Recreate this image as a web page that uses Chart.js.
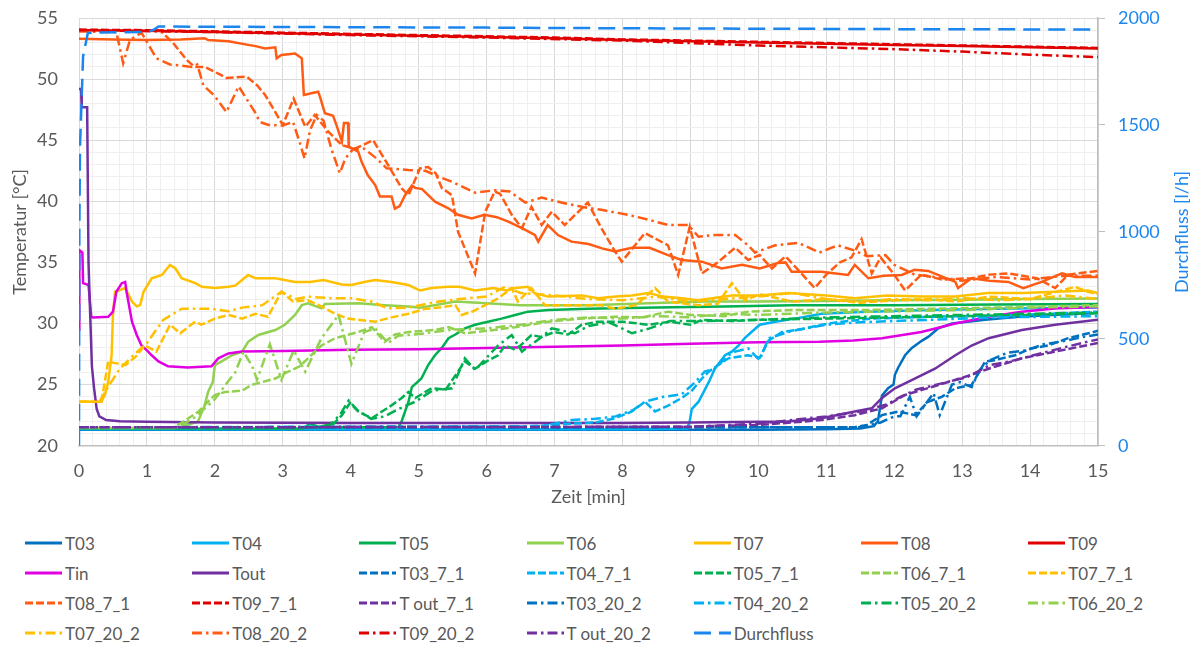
<!DOCTYPE html>
<html><head><meta charset="utf-8">
<script src="https://cdn.jsdelivr.net/npm/chart.js@4.4.1/dist/chart.umd.min.js"></script>
<style>
html,body{margin:0;padding:0;background:#fff;width:1200px;height:646px;overflow:hidden;font-family:Lato,'Open Sans',sans-serif;}
#wrap{position:absolute;left:0;top:0;width:1200px;height:510px;}
#legend{position:absolute;left:25px;top:528px;display:grid;grid-template-columns:repeat(7,167.2px);grid-auto-rows:30px;}
.item{display:flex;align-items:center;font-size:17px;color:#595959;white-space:nowrap;}
.item svg{margin-right:3px;flex:none;}
#y2title{position:absolute;left:1181px;top:232px;transform:translate(-50%,-50%) rotate(-90deg);font-size:18px;color:#1C86EE;white-space:nowrap;}
</style></head>
<body>
<div id="wrap"><canvas id="c"></canvas></div>
<div id="y2title">Durchfluss [l/h]</div>
<div id="legend"></div>
<script>
// ---- data: [time in min, value] ----
const T03 = [[0,21.3],[4,21.3],[8,21.3],[10,21.3],[11,21.35],[11.5,21.4],[11.7,21.6],[11.76,22.0],[11.82,24.1],[11.91,24.7],[11.99,25.0],[12.01,25.8],[12.06,26.4],[12.16,27.4],[12.26,28.0],[12.41,28.6],[12.5,28.9],[12.65,29.6],[12.85,30.0],[13.34,30.3],[13.83,30.55],[14.32,30.7],[15,30.85]];
const T04 = [[0,21.35],[4,21.35],[8,21.35],[8.95,21.4],[8.99,22.0],[9.02,23.0],[9.12,23.6],[9.27,25.2],[9.36,26.3],[9.51,27.4],[9.61,27.7],[9.71,28.2],[9.8,28.8],[9.9,29.3],[10.02,29.9],[10.25,30.15],[10.54,30.4],[10.93,30.8],[11.5,30.95],[12.5,31.1],[13.5,31.2],[15,31.3]];
const T05 = [[0,21.4],[3.3,21.4],[3.4,21.8],[3.55,21.5],[4.7,21.5],[4.75,22.0],[4.85,23.6],[4.9,24.8],[5.04,25.5],[5.14,26.6],[5.24,27.4],[5.34,28.0],[5.44,28.8],[5.54,29.1],[5.68,29.6],[5.83,29.9],[6.02,30.15],[6.22,30.4],[6.42,30.7],[6.61,30.97],[6.91,31.1],[7.5,31.2],[8.5,31.3],[9.5,31.4],[10.5,31.5],[12,31.5],[13.5,31.55],[15,31.6]];
const T06 = [[0,21.45],[1.4,21.45],[1.51,21.55],[1.75,21.96],[1.85,23.3],[1.9,24.4],[1.97,25.2],[2.0,26.6],[2.1,26.9],[2.25,27.4],[2.4,27.7],[2.49,28.5],[2.64,29.06],[2.89,29.47],[3.03,29.9],[3.18,30.7],[3.28,31.5],[3.37,31.65],[3.57,31.24],[3.62,31.6],[4.11,31.65],[4.5,31.5],[4.85,31.4],[5.02,31.3],[5.54,31.8],[6.0,31.65],[6.5,31.5],[7.5,31.5],[8.38,31.65],[9.2,31.8],[10,31.8],[11,31.85],[12,31.9],[13,31.95],[14,32.0],[15,32.05]];
const T07 = [[0,23.6],[0.33,23.6],[0.38,24.15],[0.43,25.2],[0.48,27.4],[0.5,30.7],[0.53,32.6],[0.68,32.9],[0.78,31.8],[0.85,31.4],[0.9,31.5],[0.95,32.6],[1.07,33.7],[1.22,33.97],[1.34,34.8],[1.42,34.5],[1.51,33.7],[1.71,33.3],[1.81,33.0],[2.0,32.9],[2.2,33.0],[2.3,33.1],[2.4,33.56],[2.49,33.97],[2.6,33.7],[2.89,33.7],[3.18,33.4],[3.4,33.4],[3.6,33.56],[3.87,33.2],[4.01,33.15],[4.2,33.4],[4.36,33.56],[4.6,33.4],[4.85,33.15],[5.02,32.7],[5.19,32.9],[5.43,33.0],[5.6,33.0],[5.83,32.7],[6.1,32.9],[6.3,32.7],[6.42,32.9],[6.61,33.0],[6.7,32.5],[6.9,32.2],[7.4,32.3],[7.64,32.06],[7.9,32.2],[8.14,32.3],[8.38,32.5],[8.6,32.2],[8.87,32.06],[9.11,31.9],[9.61,32.3],[10.02,32.3],[10.44,32.5],[11,32.3],[11.42,32.06],[11.9,32.3],[12.4,32.2],[12.9,32.2],[13.38,32.5],[13.9,32.5],[14.37,32.6],[14.85,32.7],[15,32.5]];
const T08 = [[0,53.3],[0.5,53.25],[1.0,53.2],[1.5,53.25],[1.85,53.35],[1.9,53.2],[2.2,53.1],[2.49,52.8],[2.6,52.7],[2.74,52.5],[2.89,52.6],[2.91,51.7],[2.98,51.97],[3.18,52.1],[3.28,51.7],[3.31,48.7],[3.52,48.97],[3.55,48.5],[3.62,47.2],[3.74,47.0],[3.79,46.24],[3.87,44.9],[3.9,46.4],[3.96,46.4],[3.97,44.47],[4.11,44.06],[4.16,43.24],[4.25,42.15],[4.36,41.33],[4.43,40.4],[4.6,40.4],[4.65,39.4],[4.72,39.6],[4.8,40.5],[4.9,41.3],[4.95,41.1],[5.05,41.0],[5.24,39.97],[5.43,39.45],[5.58,38.9],[5.78,38.6],[5.97,38.9],[6.15,38.7],[6.32,38.33],[6.52,37.8],[6.71,37.25],[6.76,36.7],[6.9,38.06],[7.05,37.24],[7.25,36.7],[7.5,36.5],[7.7,36.15],[7.89,35.9],[8.14,36.2],[8.4,36.2],[8.67,35.6],[8.87,35.2],[9.17,35.06],[9.46,34.5],[9.76,34.8],[10.02,34.5],[10.29,34.95],[10.4,35.0],[10.49,34.24],[10.93,34.24],[11.32,33.97],[11.42,34.8],[11.62,33.7],[11.85,33.9],[12.11,33.97],[12.3,34.4],[12.5,34.3],[12.9,33.4],[12.94,32.9],[13.14,33.7],[13.4,33.5],[13.68,33.4],[13.9,32.9],[14.17,33.4],[14.47,34.1],[14.66,33.8],[15,33.8]];
const T09 = [[0,54.0],[1,53.95],[2,53.85],[3,53.75],[4,53.65],[5,53.55],[6,53.45],[7,53.35],[8,53.2],[9,53.1],[10,53.0],[11,52.9],[12,52.8],[13,52.7],[14,52.6],[15,52.5]];
const Tin = [[0,29.5],[0.005,36.0],[0.05,35.8],[0.06,33.3],[0.14,33.15],[0.18,30.55],[0.21,30.5],[0.43,30.55],[0.5,30.97],[0.55,32.6],[0.63,33.3],[0.68,33.4],[0.7,32.6],[0.78,30.15],[0.85,29.06],[0.92,28.2],[1.0,27.8],[1.07,27.4],[1.17,26.9],[1.31,26.5],[1.6,26.4],[1.95,26.5],[2.05,27.15],[2.2,27.55],[2.4,27.7],[3,27.75],[4,27.85],[5,27.9],[6,28.0],[7,28.1],[8,28.2],[9,28.35],[10,28.46],[10.9,28.5],[11.4,28.6],[11.82,28.8],[12.4,29.3],[12.9,30.0],[13.39,30.55],[13.88,30.97],[14.4,31.24],[15,31.35]];
const Tout = [[0,49.2],[0.03,49.2],[0.04,47.7],[0.12,47.7],[0.14,35.0],[0.16,31.5],[0.19,26.5],[0.22,24.8],[0.26,23.0],[0.3,22.4],[0.4,22.1],[0.6,22.0],[1.0,21.95],[2,21.9],[4,21.85],[8,21.85],[9,21.9],[10,21.95],[10.4,21.96],[10.93,22.24],[11.42,22.8],[11.67,23.06],[11.82,23.9],[12.01,24.7],[12.31,25.5],[12.6,26.3],[12.9,27.4],[13.14,28.2],[13.39,28.8],[13.88,29.47],[14.37,29.9],[15,30.3]];
const T03_7_1 = [[0,21.5],[11.4,21.5],[11.6,21.7],[11.82,22.5],[12.06,22.8],[12.31,22.5],[12.5,23.6],[12.7,24.0],[12.9,24.7],[13.14,24.97],[13.34,26.9],[13.48,27.0],[13.78,27.4],[14.02,27.97],[14.27,28.2],[14.56,28.8],[14.86,29.2],[15,29.4]];
const T04_7_1 = [[0,21.5],[6.5,21.55],[7.0,21.7],[7.25,21.8],[7.6,21.9],[7.89,22.24],[8.14,22.8],[8.33,23.6],[8.48,22.8],[8.68,23.3],[8.87,23.9],[9.02,24.5],[9.17,25.5],[9.27,26.06],[9.41,26.6],[9.56,27.15],[9.85,27.4],[10.02,27.2],[10.15,28.6],[10.35,29.3],[10.69,29.6],[10.93,29.9],[11.23,30.15],[11.67,30.4],[12.5,30.55],[13.5,30.65],[14.3,30.8],[15,30.97]];
const T05_7_1 = [[0,21.5],[3.5,21.5],[3.75,21.8],[3.87,22.5],[3.99,23.5],[4.11,22.8],[4.31,22.24],[4.46,22.8],[4.6,23.3],[4.75,23.9],[4.85,24.4],[4.95,23.9],[5.19,24.7],[5.4,24.6],[5.68,26.9],[5.83,26.3],[6.0,26.9],[6.17,27.4],[6.27,28.2],[6.4,27.9],[6.5,28.2],[6.66,29.06],[6.8,28.9],[7.0,29.3],[7.2,29.1],[7.4,29.9],[7.64,30.15],[8.0,30.15],[8.38,29.9],[8.7,30.15],[9.0,29.9],[9.17,30.3],[9.6,30.2],[10.02,30.3],[11,30.4],[12,30.5],[13,30.6],[14,30.7],[15,30.85]];
const T06_7_1 = [[0,21.5],[1.4,21.5],[1.61,22.24],[1.76,22.8],[1.9,23.6],[2.0,24.15],[2.15,24.4],[2.4,24.5],[2.54,24.97],[2.89,25.5],[3.08,26.06],[3.25,26.5],[3.37,27.15],[3.57,28.2],[3.77,28.8],[4.11,29.3],[4.31,29.7],[4.5,28.5],[4.65,29.1],[4.85,29.3],[5.24,29.47],[5.44,29.7],[5.68,29.2],[6.0,29.4],[6.42,29.7],[6.91,30.15],[7.4,30.4],[7.89,30.55],[8.3,30.5],[8.67,30.97],[9.0,30.7],[9.5,30.6],[9.85,30.97],[10.5,31.1],[11.5,31.1],[12.5,31.2],[13.5,31.3],[15,31.5]];
const T07_7_1 = [[0,23.6],[0.33,23.6],[0.43,26.9],[0.5,26.8],[0.68,26.6],[0.82,27.2],[0.97,28.2],[1.14,27.7],[1.34,29.9],[1.49,29.2],[1.71,30.15],[1.8,29.9],[2.0,30.4],[2.2,30.7],[2.4,30.4],[2.6,30.8],[2.78,30.55],[2.98,32.6],[3.15,31.8],[3.37,31.9],[3.57,31.4],[3.77,30.8],[3.96,30.4],[4.36,30.15],[4.6,30.5],[4.85,30.8],[5.1,31.2],[5.3,31.3],[5.54,31.5],[5.63,30.7],[5.8,31.0],[5.98,31.5],[6.17,32.06],[6.37,32.9],[6.46,31.8],[6.66,32.9],[6.86,31.5],[7.2,31.5],[7.69,31.5],[7.89,31.2],[8.2,31.5],[8.48,32.9],[8.67,31.8],[9.11,31.5],[9.4,31.6],[9.61,33.3],[9.8,31.9],[10.02,32.4],[10.5,31.8],[11,32.0],[11.5,31.7],[12,31.9],[12.5,32.0],[12.9,31.8],[13.4,32.2],[14.0,32.0],[14.66,33.0],[14.85,32.6],[15,32.4]];
const T08_7_1 = [[0,54.0],[1.2,53.95],[1.38,53.0],[1.58,51.6],[1.7,51.0],[1.85,51.0],[2.03,50.5],[2.17,50.1],[2.47,50.2],[2.62,49.5],[2.74,48.7],[2.89,47.3],[3.0,46.24],[3.16,48.4],[3.33,46.1],[3.47,47.06],[3.67,45.7],[3.87,44.6],[4.06,44.3],[4.33,45.0],[4.55,42.97],[4.75,41.06],[4.85,40.5],[5.02,42.7],[5.14,42.8],[5.25,42.3],[5.34,41.1],[5.49,40.5],[5.58,37.5],[5.83,34.1],[5.98,39.15],[6.12,40.8],[6.2,40.6],[6.37,38.9],[6.52,37.8],[6.66,39.55],[6.81,38.06],[6.96,39.15],[7.15,38.06],[7.49,39.9],[7.69,37.8],[7.89,35.9],[7.99,35.06],[8.33,37.4],[8.67,36.4],[8.82,33.97],[8.99,37.9],[9.17,34.1],[9.4,35.0],[9.66,36.2],[9.85,35.2],[10.02,35.6],[10.2,34.5],[10.4,35.5],[10.6,34.3],[10.83,32.9],[11.0,34.0],[11.2,35.0],[11.37,35.4],[11.52,36.9],[11.67,34.1],[11.8,35.4],[12.0,34.0],[12.16,32.7],[12.4,34.0],[12.7,33.6],[13.14,33.7],[13.4,34.0],[13.68,34.1],[14.1,33.7],[14.37,32.9],[14.56,34.0],[14.85,34.2],[15,34.3]];
const T09_7_1 = [[0,54.05],[1,54.0],[2,53.9],[3,53.8],[4,53.7],[5,53.6],[6,53.5],[7,53.4],[8,53.25],[9,53.15],[10,53.05],[11,52.95],[12,52.85],[13,52.75],[14,52.65],[15,52.55]];
const Tout_7_1 = [[0,21.5],[9,21.55],[10,21.7],[10.5,21.9],[10.93,22.1],[11.42,22.5],[11.82,23.06],[12.16,24.15],[12.65,24.97],[13.14,25.8],[13.39,26.3],[13.88,27.15],[14.37,27.7],[15,28.4]];
const T03_20_2 = [[0,21.5],[11.5,21.5],[11.8,21.9],[12.0,22.4],[12.09,22.4],[12.23,24.0],[12.33,22.4],[12.58,24.3],[12.67,22.5],[12.85,25.0],[12.97,25.2],[13.14,24.8],[13.26,26.2],[13.41,27.0],[13.66,27.6],[13.95,27.8],[14.2,28.3],[14.54,28.6],[14.78,28.9],[15,29.1]];
const T04_20_2 = [[0,21.5],[6.8,21.6],[7.0,21.8],[7.25,22.1],[7.6,22.2],[7.9,22.4],[8.15,22.9],[8.33,23.6],[8.6,24.0],[8.87,24.2],[9.07,25.2],[9.21,26.06],[9.36,26.3],[9.56,27.4],[9.66,27.7],[9.85,27.97],[10.02,27.0],[10.15,28.8],[10.5,29.4],[11,29.9],[11.5,30.1],[12.5,30.3],[13.5,30.5],[15,30.6]];
const T05_20_2 = [[0,21.5],[3.5,21.5],[3.7,21.7],[3.85,22.6],[3.97,23.7],[4.1,22.9],[4.3,22.2],[4.5,22.4],[4.7,23.0],[4.95,23.6],[5.2,24.5],[5.49,24.7],[5.68,27.15],[5.83,26.2],[6.17,28.2],[6.37,29.06],[6.52,27.7],[6.81,28.9],[6.96,29.6],[7.3,29.2],[7.5,29.8],[7.8,30.1],[8.14,29.2],[8.4,29.6],[8.7,30.2],[9.2,30.2],[10,30.3],[11,30.5],[12,30.6],[13,30.7],[14,30.8],[15,30.9]];
const T06_20_2 = [[0,21.5],[1.45,21.5],[1.7,22.3],[2.0,23.8],[2.2,25.3],[2.3,26.0],[2.42,27.7],[2.55,26.5],[2.62,25.4],[2.81,28.3],[2.98,25.4],[3.16,27.8],[3.33,26.06],[3.57,28.8],[3.82,30.7],[4.01,26.7],[4.2,29.3],[4.36,29.6],[4.55,28.4],[4.7,29.0],[4.85,29.06],[5.1,29.2],[5.5,29.5],[6.0,29.6],[6.5,29.9],[7.0,30.3],[7.5,30.5],[8.0,30.4],[8.5,30.6],[9.0,30.5],[9.5,30.8],[10,30.7],[11,30.9],[12,31.0],[13,31.1],[14,31.3],[15,31.4]];
const T07_20_2 = [[0,23.6],[0.3,23.6],[0.45,25.0],[0.6,26.3],[0.8,27.4],[1.0,28.4],[1.1,29.2],[1.24,30.3],[1.51,31.2],[1.7,31.2],[1.95,31.2],[2.2,31.0],[2.4,31.3],[2.7,31.5],[2.98,32.6],[3.2,32.0],[3.37,32.2],[3.72,32.06],[4.01,32.06],[4.3,31.8],[4.55,31.24],[4.85,31.3],[5.02,31.5],[5.3,31.8],[5.6,32.0],[6.0,32.2],[6.27,33.0],[6.5,32.5],[7.0,32.3],[7.5,32.0],[8.0,31.9],[8.5,32.2],[9.0,31.8],[9.5,32.0],[10.0,32.2],[10.5,32.5],[11.0,32.0],[11.5,31.8],[12.0,32.0],[12.5,31.9],[13.0,32.1],[13.5,31.9],[14.0,32.0],[14.5,32.3],[15,32.0]];
const T08_20_2 = [[0,53.9],[0.55,53.85],[0.65,51.3],[0.75,53.2],[0.92,53.8],[1.14,51.7],[1.34,51.2],[1.66,51.0],[1.74,51.2],[1.83,49.5],[2.0,48.6],[2.17,47.3],[2.35,49.4],[2.59,47.3],[2.66,46.5],[2.79,46.24],[3.0,46.2],[3.15,46.5],[3.25,44.8],[3.32,43.5],[3.4,45.8],[3.5,47.06],[3.6,46.6],[3.72,44.2],[3.84,42.3],[3.92,43.5],[4.04,44.3],[4.2,44.3],[4.38,43.5],[4.53,42.7],[4.85,42.56],[5.1,42.5],[5.3,42.0],[5.49,41.6],[5.83,40.7],[6.12,40.9],[6.34,40.8],[6.57,39.9],[6.81,40.3],[7.1,39.9],[7.4,39.55],[7.69,39.3],[8.08,38.9],[8.38,38.5],[8.67,38.06],[8.97,38.06],[9.12,37.1],[9.36,37.24],[9.66,37.24],[9.85,36.4],[9.95,35.8],[10.25,36.4],[10.59,36.6],[10.9,35.8],[11.17,36.4],[11.4,36.0],[11.6,35.5],[11.87,35.6],[12.0,34.8],[12.3,34.0],[12.6,33.8],[13.0,33.5],[13.5,33.8],[14.0,33.6],[14.5,33.9],[15,33.9]];
const T09_20_2 = [[0,54.0],[2,53.85],[4,53.6],[6,53.4],[8,53.15],[9,52.95],[10,52.75],[11,52.6],[12,52.45],[13,52.25],[14,52.0],[15,51.8]];
const Tout_20_2 = [[0,21.5],[9,21.55],[10,21.8],[10.5,22.1],[11,22.4],[11.5,22.8],[11.9,23.4],[12.09,24.0],[12.33,24.6],[12.7,25.1],[13.07,25.6],[13.41,26.6],[13.7,26.9],[14.05,27.4],[14.54,28.1],[14.84,28.5],[15,28.7]];
const Durchfluss = [[0,0],[0.005,1000],[0.015,1400],[0.06,1820],[0.13,1930],[0.3,1932],[1.0,1935],[1.1,1945],[1.17,1960],[2,1959],[4,1957],[6,1955],[8,1952],[10,1950],[12,1948],[15,1946]];

const labels = ['T03','T04','T05','T06','T07','T08','T09','Tin','Tout','T03_7_1','T04_7_1','T05_7_1','T06_7_1','T07_7_1','T08_7_1','T09_7_1','T out_7_1','T03_20_2','T04_20_2','T05_20_2','T06_20_2','T07_20_2','T08_20_2','T09_20_2','T out_20_2','Durchfluss'];
const seriesData = [T03,T04,T05,T06,T07,T08,T09,Tin,Tout,T03_7_1,T04_7_1,T05_7_1,T06_7_1,T07_7_1,T08_7_1,T09_7_1,Tout_7_1,T03_20_2,T04_20_2,T05_20_2,T06_20_2,T07_20_2,T08_20_2,T09_20_2,Tout_20_2,Durchfluss];

const C = {T03:'#0070C0',T04:'#00B0F0',T05:'#00B050',T06:'#92D050',T07:'#FFC000',T08:'#FF5B14',T09:'#E00000',Tin:'#E100E1',Tout:'#7030A0',Q:'#1C86EE'};
const colors = [C.T03,C.T04,C.T05,C.T06,C.T07,C.T08,C.T09,C.Tin,C.Tout,
  C.T03,C.T04,C.T05,C.T06,C.T07,C.T08,C.T09,C.Tout,
  C.T03,C.T04,C.T05,C.T06,C.T07,C.T08,C.T09,C.Tout,C.Q];
const DASH = [8,3], DASHDOT = [10,4,2.5,4], LONG = [17,8];
const styles = labels.map((l,i)=> i<9 ? [] : (l==='Durchfluss' ? LONG : (l.indexOf('_7_1')>0 ? DASH : DASHDOT)));

const FONT = "Lato, 'Open Sans', sans-serif";
const GREY = '#595959';
const N = labels.length;
const datasets = labels.map((l,i)=>({
  label:l, data:seriesData[i], borderColor:colors[i], backgroundColor:colors[i],
  borderWidth:2.5, borderDash:styles[i], pointRadius:0, tension:0, fill:false,
  yAxisID: l==='Durchfluss' ? 'y2' : 'y', order: N - i
}));

const isInt = v => Math.abs(v - Math.round(v)) < 1e-6;

new Chart(document.getElementById('c'), {
  type:'line',
  data:{datasets},
  options:{
    responsive:true, maintainAspectRatio:false, animation:false, events:[],
    layout:{padding:{top:18,left:0,right:0,bottom:0}},
    plugins:{legend:{display:false}, tooltip:{enabled:false}},
    scales:{
      x:{type:'linear', min:0, max:15,
        ticks:{stepSize:0.2, autoSkip:false, maxRotation:0, color:GREY, font:{family:FONT,size:18}, padding:15,
          callback:v=> isInt(v) ? String(Math.round(v)) : ''},
        grid:{color:c=> isInt(c.tick.value) ? '#d9d9d9' : '#efefef', lineWidth:1, drawTicks:false},
        border:{display:true, color:'#bfbfbf', width:1.5},
        title:{display:true, text:'Zeit [min]', color:GREY, font:{family:FONT,size:18}, padding:{top:0,bottom:2}},
        afterFit:s=>{ s.height = 64.3; s.paddingLeft = 0; s.paddingRight = 0; }
      },
      y:{position:'left', min:20, max:55,
        ticks:{stepSize:1, autoSkip:false, color:GREY, font:{family:FONT,size:18}, padding:21,
          callback:v=> (Math.round(v) % 5 === 0) ? String(Math.round(v)) : ''},
        grid:{color:c=> (Math.round(c.tick.value) % 5 === 0) ? '#d9d9d9' : '#efefef', lineWidth:1, drawTicks:false},
        border:{display:true, color:'#d9d9d9', width:1},
        title:{display:true, text:'Temperatur [°C]', color:GREY, font:{family:FONT,size:18}, padding:{top:9,bottom:0}},
        afterFit:s=>{ s.width = 79; s.paddingTop = 0; s.paddingBottom = 0; }
      },
      y2:{position:'right', min:0, max:2000,
        ticks:{stepSize:500, color:C.Q, font:{family:FONT,size:18}, padding:13, callback:v=> String(v)},
        grid:{drawOnChartArea:false, drawTicks:true, tickLength:7, color:'#bfbfbf'},
        border:{display:true, color:'#bfbfbf', width:1.5},
        afterFit:s=>{ s.width = 102; s.paddingTop = 0; s.paddingBottom = 0; }
      }
    }
  }
});

// HTML legend built from the datasets
const legendEl = document.getElementById('legend');
const NS = 'http://www.w3.org/2000/svg';
datasets.forEach(ds=>{
  const item = document.createElement('div'); item.className='item';
  const svg = document.createElementNS(NS,'svg'); svg.setAttribute('width','37'); svg.setAttribute('height','10');
  const ln = document.createElementNS(NS,'line');
  ln.setAttribute('x1','0'); ln.setAttribute('y1','5'); ln.setAttribute('x2','37'); ln.setAttribute('y2','5');
  ln.setAttribute('stroke', ds.borderColor); ln.setAttribute('stroke-width','3');
  if (ds.borderDash.length) ln.setAttribute('stroke-dasharray', ds.borderDash.join(' '));
  svg.appendChild(ln); item.appendChild(svg);
  const sp = document.createElement('span'); sp.textContent = ds.label; item.appendChild(sp);
  legendEl.appendChild(item);
});
</script>
</body></html>
